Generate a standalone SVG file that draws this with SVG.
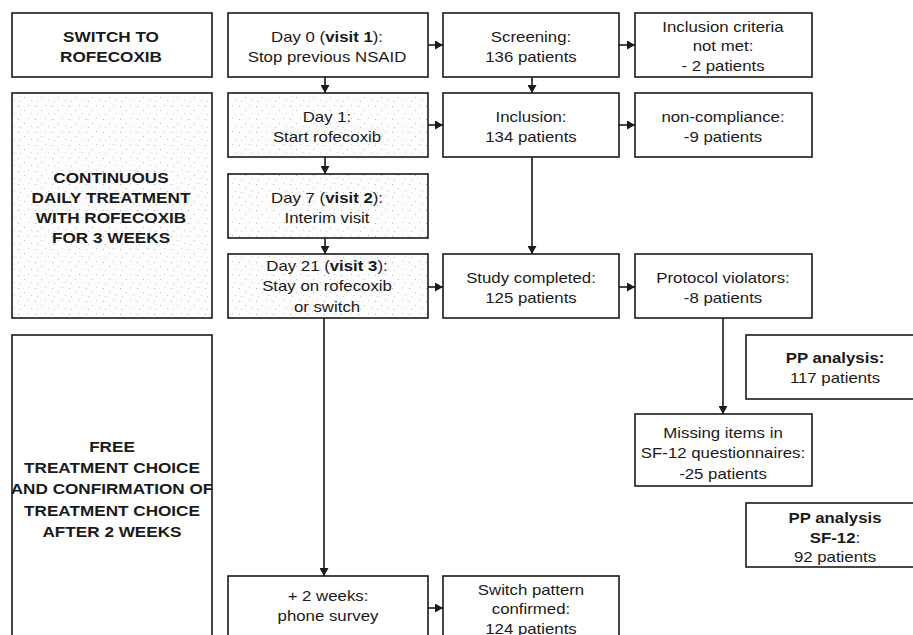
<svg xmlns="http://www.w3.org/2000/svg" width="913" height="635" viewBox="0 0 913 635">
<style>
.box{fill:#fff;stroke:#1a1a1a;stroke-width:1.6}
.stip{fill:url(#stip);stroke:#1a1a1a;stroke-width:1.6}
.t{font-family:"Liberation Sans",Arial,sans-serif;font-size:14px;fill:#1a1a1a;text-anchor:middle}
.b{font-family:"Liberation Sans",Arial,sans-serif;font-size:14.3px;font-weight:bold;fill:#1a1a1a;text-anchor:middle}
.bo{font-weight:bold}
.c{stroke:#1a1a1a;stroke-width:1.6;fill:none;marker-end:url(#ah)}
</style>
<defs>
<marker id="ah" markerUnits="userSpaceOnUse" markerWidth="9" markerHeight="9" refX="8" refY="4.5" orient="auto">
<path d="M0,0 L8,4.5 L0,9 z" fill="#1a1a1a"/>
</marker>
<pattern id="stip" width="17" height="13" patternUnits="userSpaceOnUse">
<rect width="17" height="13" fill="#fdfdfd"/>
<rect x="1" y="2" width="1" height="1" fill="#b0b0b0"/>
<rect x="11" y="1" width="1" height="1" fill="#c8c8c8"/>
<rect x="7" y="6" width="1" height="1" fill="#bababa"/>
<rect x="14" y="9" width="1" height="1" fill="#cfcfcf"/>
<rect x="3" y="10" width="1" height="1" fill="#c4c4c4"/>
</pattern>
</defs>

<g id="phase-switch">
<rect class="box" x="12" y="13" width="200" height="64"/>
<text class="b" transform="translate(111,0) scale(1.2,1)"><tspan x="0" y="42">SWITCH TO</tspan><tspan x="0" y="62">ROFECOXIB</tspan></text>
</g>
<g id="phase-continuous">
<rect class="stip" x="12" y="93" width="200" height="225"/>
<text class="b" transform="translate(111,0) scale(1.2,1)"><tspan x="0" y="183">CONTINUOUS</tspan><tspan x="0" y="203">DAILY TREATMENT</tspan><tspan x="0" y="223">WITH ROFECOXIB</tspan><tspan x="0" y="243">FOR 3 WEEKS</tspan></text>
</g>
<g id="phase-free">
<rect class="box" x="12" y="335" width="200" height="320"/>
<text class="b" transform="translate(112,0) scale(1.2,1)"><tspan x="0" y="452">FREE</tspan><tspan x="0" y="473">TREATMENT CHOICE</tspan><tspan x="0" y="494">AND CONFIRMATION OF</tspan><tspan x="0" y="516">TREATMENT CHOICE</tspan><tspan x="0" y="537">AFTER 2 WEEKS</tspan></text>
</g>

<g id="day0">
<rect class="box" x="228" y="13" width="200" height="64"/>
<text class="t" transform="translate(327,0) scale(1.2,1)"><tspan x="0" y="42">Day 0 (<tspan class="bo">visit 1</tspan>):</tspan><tspan x="0" y="62">Stop previous NSAID</tspan></text>
</g>
<g id="day1">
<rect class="stip" x="228" y="93" width="200" height="64"/>
<text class="t" transform="translate(327,0) scale(1.2,1)"><tspan x="0" y="122">Day 1:</tspan><tspan x="0" y="142">Start rofecoxib</tspan></text>
</g>
<g id="day7">
<rect class="stip" x="228" y="174" width="200" height="64"/>
<text class="t" transform="translate(327,0) scale(1.2,1)"><tspan x="0" y="203">Day 7 (<tspan class="bo">visit 2</tspan>):</tspan><tspan x="0" y="223">Interim visit</tspan></text>
</g>
<g id="day21">
<rect class="stip" x="228" y="254" width="200" height="64"/>
<text class="t" transform="translate(327,0) scale(1.2,1)"><tspan x="0" y="271">Day 21 (<tspan class="bo">visit 3</tspan>):</tspan><tspan x="0" y="291.5">Stay on rofecoxib</tspan><tspan x="0" y="312">or switch</tspan></text>
</g>
<g id="phone">
<rect class="box" x="228" y="576" width="200" height="80"/>
<text class="t" transform="translate(328,0) scale(1.2,1)"><tspan x="0" y="601.5">+ 2 weeks:</tspan><tspan x="0" y="621.5">phone survey</tspan></text>
</g>

<g id="screening">
<rect class="box" x="443" y="13" width="176" height="64"/>
<text class="t" transform="translate(531,0) scale(1.2,1)"><tspan x="0" y="42">Screening:</tspan><tspan x="0" y="62">136 patients</tspan></text>
</g>
<g id="inclusion">
<rect class="box" x="443" y="93" width="176" height="64"/>
<text class="t" transform="translate(531,0) scale(1.2,1)"><tspan x="0" y="122">Inclusion:</tspan><tspan x="0" y="142">134 patients</tspan></text>
</g>
<g id="completed">
<rect class="box" x="443" y="254" width="176" height="64"/>
<text class="t" transform="translate(531,0) scale(1.2,1)"><tspan x="0" y="283">Study completed:</tspan><tspan x="0" y="303">125 patients</tspan></text>
</g>
<g id="switch-pattern">
<rect class="box" x="443" y="576" width="176" height="80"/>
<text class="t" transform="translate(531,0) scale(1.2,1)"><tspan x="0" y="595">Switch pattern</tspan><tspan x="0" y="614.5">confirmed:</tspan><tspan x="0" y="634">124 patients</tspan></text>
</g>

<g id="criteria">
<rect class="box" x="635" y="13" width="177" height="64"/>
<text class="t" transform="translate(723,0) scale(1.2,1)"><tspan x="0" y="32">Inclusion criteria</tspan><tspan x="0" y="51.5">not met:</tspan><tspan x="0" y="71">- 2 patients</tspan></text>
</g>
<g id="noncompliance">
<rect class="box" x="635" y="93" width="177" height="64"/>
<text class="t" transform="translate(723,0) scale(1.2,1)"><tspan x="0" y="122.5">non-compliance:</tspan><tspan x="0" y="142">-9 patients</tspan></text>
</g>
<g id="violators">
<rect class="box" x="635" y="254" width="177" height="64"/>
<text class="t" transform="translate(723,0) scale(1.2,1)"><tspan x="0" y="283">Protocol violators:</tspan><tspan x="0" y="303">-8 patients</tspan></text>
</g>
<g id="missing">
<rect class="box" x="635" y="414" width="177" height="72"/>
<text class="t" transform="translate(723,0) scale(1.2,1)"><tspan x="0" y="438">Missing items in</tspan><tspan x="0" y="458.5">SF-12 questionnaires:</tspan><tspan x="0" y="479">-25 patients</tspan></text>
</g>

<g id="pp">
<rect class="box" x="746" y="335" width="180" height="64"/>
<text class="t" transform="translate(835,0) scale(1.2,1)"><tspan x="0" y="363" class="bo">PP analysis:</tspan><tspan x="0" y="383.5">117 patients</tspan></text>
</g>
<g id="pp-sf12">
<rect class="box" x="746" y="503" width="180" height="64"/>
<text class="t" transform="translate(835,0) scale(1.2,1)"><tspan x="0" y="523" class="bo">PP analysis</tspan><tspan x="0" y="543"><tspan class="bo">SF-12</tspan>:</tspan><tspan x="0" y="562.5">92 patients</tspan></text>
</g>

<g id="connectors">
<path class="c" d="M325,77 V93"/>
<path class="c" d="M428,45 H443"/>
<path class="c" d="M619,45 H635"/>
<path class="c" d="M532,77 V93"/>
<path class="c" d="M428,125 H443"/>
<path class="c" d="M619,125 H635"/>
<path class="c" d="M325,157 V174"/>
<path class="c" d="M532,157 V254"/>
<path class="c" d="M325,238 V254"/>
<path class="c" d="M428,287 H443"/>
<path class="c" d="M619,287 H635"/>
<path class="c" d="M723,318 V414"/>
<path class="c" d="M324,318 V576"/>
<path class="c" d="M428,608 H443"/>
</g>
</svg>
